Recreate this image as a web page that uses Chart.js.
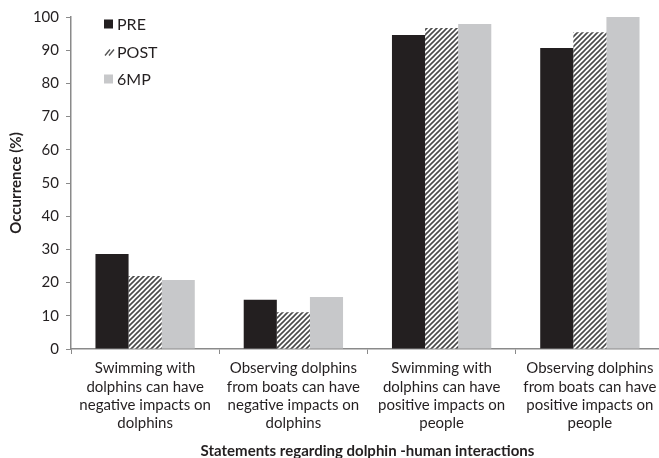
<!DOCTYPE html>
<html>
<head>
<meta charset="utf-8">
<script src="https://cdn.jsdelivr.net/npm/chart.js@4/dist/chart.umd.min.js"></script>
<style>
  html, body { margin: 0; padding: 0; background: #fff; overflow: hidden; }
  #wrap { width: 664px; height: 458px; }
</style>
</head>
<body>
<div id="wrap"><canvas id="c" width="664" height="458"></canvas></div>
<script>
const categories = [
  ['Swimming with', 'dolphins can have', 'negative impacts on', 'dolphins'],
  ['Observing dolphins', 'from boats can have', 'negative impacts on', 'dolphins'],
  ['Swimming with', 'dolphins can have', 'positive impacts on', 'people'],
  ['Observing dolphins', 'from boats can have', 'positive impacts on', 'people']
];
const seriesNames = ['PRE', 'POST', '6MP'];
const preValues  = [28.6, 14.8, 94.6, 90.7];
const postValues = [22.0, 11.1, 96.7, 95.4];
const sixMpValues = [20.8, 15.7, 97.9, 100];
const yTicks = [0, 10, 20, 30, 40, 50, 60, 70, 80, 90, 100];

const FONT = 'Lato, "Open Sans", sans-serif';
const AXIS = '#8a8a8a';

// diagonal hatch fill for the POST series
function hatch() {
  const s = 5;
  const p = document.createElement('canvas');
  p.width = s; p.height = s;
  const g = p.getContext('2d');
  g.fillStyle = '#ffffff';
  g.fillRect(0, 0, s, s);
  g.strokeStyle = '#4a4a4a';
  g.lineWidth = 1.6;
  g.beginPath();
  g.moveTo(-1, s + 1); g.lineTo(s + 1, -1);
  g.moveTo(-1, 1); g.lineTo(1, -1);
  g.moveTo(s - 1, s + 1); g.lineTo(s + 1, s - 1);
  g.stroke();
  return document.getElementById('c').getContext('2d').createPattern(p, 'repeat');
}
const hatchFill = hatch();
const fills = ['#231f20', hatchFill, '#c7c8ca'];

// stacked legend in the upper left of the plot
const sideLegend = {
  id: 'sideLegend',
  afterDraw(chart) {
    const ctx = chart.ctx;
    ctx.save();
    ctx.font = '16px ' + FONT;
    ctx.textBaseline = 'middle';
    const x0 = 104, y0 = 24, step = 27.5, sz = 9;
    seriesNames.forEach((name, i) => {
      const y = y0 + i * step;
      if (i === 1) {
        ctx.strokeStyle = '#555';
        ctx.lineWidth = 1.4;
        ctx.beginPath();
        ctx.moveTo(x0 + 1, y + 4); ctx.lineTo(x0 + 6, y - 2);
        ctx.moveTo(x0 + 5, y + 4); ctx.lineTo(x0 + 10, y - 2);
        ctx.stroke();
      } else {
        ctx.fillStyle = fills[i];
        ctx.fillRect(x0, y - sz / 2, sz, sz);
      }
      ctx.fillStyle = '#231f20';
      ctx.fillText(name, x0 + 13, y + 1);
    });
    ctx.restore();
  }
};

new Chart(document.getElementById('c'), {
  type: 'bar',
  data: {
    labels: categories,
    datasets: [
      { label: seriesNames[0], data: preValues, backgroundColor: fills[0] },
      { label: seriesNames[1], data: postValues, backgroundColor: fills[1] },
      { label: seriesNames[2], data: sixMpValues, backgroundColor: fills[2] }
    ]
  },
  options: {
    responsive: false,
    animation: false,
    devicePixelRatio: 1,
    layout: { padding: { top: 17, right: 0, left: 0, bottom: 0 } },
    datasets: { bar: { categoryPercentage: 0.67, barPercentage: 1.0 } },
    plugins: { legend: { display: false }, tooltip: { enabled: false } },
    scales: {
      x: {
        grid: { display: true, drawOnChartArea: false, drawTicks: true, tickLength: 5, color: AXIS, offset: true },
        border: { display: true, color: AXIS, width: 1.5 },
        ticks: { color: '#231f20', font: { family: FONT, size: 15, lineHeight: 1.23 }, padding: 5, maxRotation: 0, autoSkip: false },
        title: { display: true, text: 'Statements regarding dolphin -human interactions', color: '#231f20', font: { family: FONT, size: 15, weight: 'bold', lineHeight: 0.85 }, padding: { top: 0, bottom: 0 } },
        afterFit(s) { s.height = 109; }
      },
      y: {
        min: 0, max: 100,
        afterBuildTicks(s) { s.ticks = yTicks.map(v => ({ value: v })); },
        grid: { display: true, drawOnChartArea: false, drawTicks: true, tickLength: 5, color: AXIS },
        border: { display: true, color: AXIS, width: 1.5 },
        ticks: { color: '#231f20', font: { family: FONT, size: 15 }, padding: 7 },
        title: { display: true, text: 'Occurrence (%)', color: '#231f20', font: { family: FONT, size: 15, weight: 'bold' }, padding: { top: 7, bottom: 0 } },
        afterFit(s) { s.width = 71; }
      }
    }
  },
  plugins: [sideLegend]
});
</script>
</body>
</html>
